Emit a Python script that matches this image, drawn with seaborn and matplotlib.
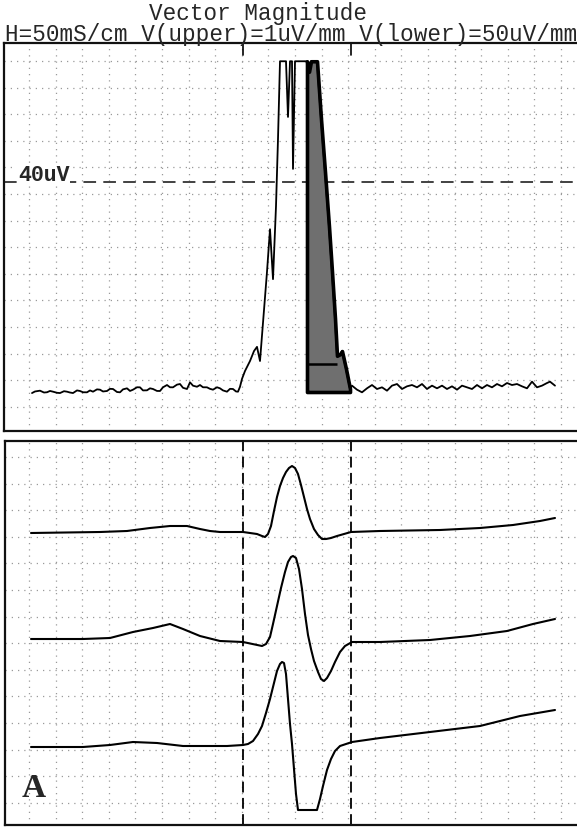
"""
Signal-averaged ECG: vector magnitude (upper) and filtered X/Y/Z leads (lower).
"""
import numpy as np
import matplotlib
matplotlib.use("Agg")
import matplotlib.pyplot as plt
import seaborn as sns

# ---- upper panel: filtered vector magnitude (time in ms, amplitude in uV) ----
vm_t = [1, 4, 9, 13, 16, 19, 22, 26, 29, 33, 36, 39, 42, 46, 49, 52, 56, 59, 62, 66,
        69, 72, 76, 79, 82, 86, 89, 92, 96, 99, 102, 106, 109, 112, 116, 119, 122, 126,
        129, 132, 136, 139, 142, 146, 149, 152, 156, 159, 162, 166, 169, 172, 176, 179,
        182, 186, 189, 192, 196, 199, 202, 205, 207, 209,
        211, 214, 219, 223, 226, 229, 232, 236, 239, 242, 245, 247, 249, 255, 257, 259,
        261, 262, 264, 275,
        276, 278, 280, 286, 290, 294, 298, 301, 304, 306, 309, 311, 315, 319,
        321, 326, 331, 336, 341, 346, 351, 356, 361, 366, 371, 376, 381, 386, 391, 396,
        401, 406, 411, 416, 421, 426, 431, 436, 441, 446, 451, 456, 461, 466, 471, 476,
        481, 486, 491, 496, 501, 506, 511, 516, 519, 524]
vm_uv = [-0.2, 0.1, 0.25, -0.1, -0.05, 0.2, 0.06, -0.15, -0.2, 0.15, 0.06, -0.1, -0.2,
         0.3, 0.19, -0.05, -0.06, 0.3, 0.06, 0.5, 0.44, 0.1, 0.19, 0.6, 0.57, 0.0, -0.06,
         0.5, 0.7, 0.2, 0.44, 0.9, 0.89, 0.3, 0.32, 0.7, 0.57, 0.2, 0.19, 0.9, 1.33, 0.9,
         0.89, 1.4, 1.52, 0.8, 0.57, 1.84, 1.2, 1.0, 1.33, 0.9, 0.89, 0.6, 0.44, 0.9, 0.7,
         0.3, 0.06, 0.6, 0.57, 0.1, 0.06, 1.0,
         2.5, 4.0, 5.9, 7.8, 8.6, 5.9, 13.3, 22.9, 31.0, 21.5, 35.4, 48.2, 63.0, 63.0,
         52.4, 63.0, 63.0, 42.5, 63.0, 63.0,
         63.0, 61.0, 63.0, 63.0, 52.0, 41.9, 31.5, 22.9, 14.0, 6.9, 7.2, 7.8, 4.4, 0.6,
         1.21, 0.44, -0.06, 0.70, 1.33, 0.57, 0.89, 0.25, 1.21, 1.52, 0.57, 1.08, 1.33,
         0.89, 1.52, 0.57, 1.21, 0.70, 1.21, 0.57, 1.08, 0.44, 1.21, 0.89, 0.57, 1.33,
         0.70, 1.33, 0.89, 1.52, 1.08, 1.71, 1.33, 1.52, 1.08, 0.70, 1.97, 0.89, 1.21,
         1.71, 1.97, 1.21]

QRS_ON, QRS_OFF = 212, 320      # ms, filtered QRS onset / offset
LAS_START = 276                 # last 40 ms of the QRS (shaded)
THRESH_UV = 40
LAS_NOISE_UV = 5.3              # noise level drawn across the shaded area
LAS_NOISE_END = 306

# ---- lower panel: filtered leads X, Y, Z (time in ms, amplitude in uV) ----
x_t = [0, 69, 96, 119, 139, 156, 169, 179, 189, 212, 226, 231, 234, 237, 240, 243, 246,
       249, 252, 255, 258, 261, 264, 267, 270, 273, 276, 279, 283, 287, 291, 295, 300,
       306, 313, 320, 349, 409, 449, 482, 509, 524]
x_amp = [-10, 0, 10, 40, 60, 60, 30, 10, 0, 0, -20, -40, -50, -20, 60, 210, 350, 460,
         540, 600, 640, 660, 640, 580, 470, 350, 230, 130, 30, -30, -70, -70, -60, -40,
         -20, 0, 10, 20, 40, 70, 110, 140]

y_t = [0, 52, 79, 102, 122, 139, 152, 169, 189, 212, 231, 235, 239, 242, 246, 250, 254,
       257, 260, 262, 265, 268, 271, 274, 277, 280, 283, 287, 290, 293, 296, 300, 304,
       309, 314, 321, 349, 399, 439, 476, 502, 524]
y_amp = [30, 30, 40, 100, 140, 180, 130, 60, 10, 0, -40, -20, 50, 180, 360, 540, 700,
         800, 850, 860, 840, 730, 530, 280, 70, -70, -190, -300, -370, -390, -360, -290,
         -200, -100, -40, 0, 0, 20, 60, 110, 180, 230]

z_t = [0, 52, 79, 102, 126, 152, 169, 196, 212, 217, 222, 227, 231, 235, 239, 243, 246,
       249, 251, 253, 255, 257, 259, 261, 263, 265, 267, 286, 289, 292, 296, 300, 304,
       309, 315, 321, 349, 399, 449, 489, 524]
z_amp = [-20, -20, 0, 30, 20, -10, -10, -10, 0, 10, 40, 110, 190, 320, 460, 620, 740,
         810, 830, 820, 710, 460, 210, 10, -240, -490, -650, -650, -540, -410, -250,
         -140, -60, -10, 10, 30, 70, 130, 190, 290, 350]

lead_baselines = [2930, 1830, 800]

sns.set_style("white")
plt.rcParams["font.family"] = ["Liberation Mono", "DejaVu Sans Mono"]

W, H = 577, 828
fig = plt.figure(figsize=(W / 100, H / 100), dpi=100)


def px_axes(left, top, bottom, right=600):
    return fig.add_axes([left / W, 1 - bottom / H, (right - left) / W, (bottom - top) / H])


grid_kw = dict(color="#9a9a9a", ls=(0, (1, 4)), lw=0.9)

# upper panel
ax = px_axes(4, 44, 432)
ax.set_xlim(-27, 569)
ax.set_ylim(-7.43, 66.48)
ax.set_xticks(np.arange(-2, 569, 26.6))
ax.set_yticks(np.arange(63.05, -7.4, -5.067))
ax.grid(True, **grid_kw)
ax.tick_params(length=0, labelbottom=False, labelleft=False)

t = np.array(vm_t)
v = np.array(vm_uv)
las = (t >= LAS_START) & (t <= QRS_OFF)
ax.fill_between(t[las], 0, v[las], facecolor="#6f6f6f", edgecolor="k", lw=2.6, zorder=3)
ax.hlines(LAS_NOISE_UV, LAS_START, LAS_NOISE_END, color="k", lw=1.8, zorder=4)
sns.lineplot(x=vm_t, y=vm_uv, sort=False, estimator=None, ax=ax, color="k", lw=1.3, zorder=5)
ax.axhline(THRESH_UV, color="#333333", lw=1.3, ls=(0, (7, 4)))
ax.text(-13, THRESH_UV + 0.3, "40uV", fontsize=15.5, fontweight="bold", va="baseline",
        ha="left", zorder=6, bbox=dict(facecolor="white", edgecolor="none", pad=0.5))
for q in (QRS_ON, QRS_OFF):
    ax.axvline(q, ymin=0.97, ymax=1, color="k", lw=1.2)

# lower panel
ax2 = px_axes(5, 442, 826)
ax2.set_xlim(-26, 569)
ax2.set_ylim(0, 3840)
ax2.set_xticks(np.arange(-2, 569, 26.6))
ax2.set_yticks(np.arange(3680, 0, -266))
ax2.grid(True, **grid_kw)
ax2.tick_params(length=0, labelbottom=False, labelleft=False)

for lt, la, base in zip([x_t, y_t, z_t], [x_amp, y_amp, z_amp], lead_baselines):
    sns.lineplot(x=lt, y=np.array(la) + base, sort=False, estimator=None, ax=ax2,
                 color="k", lw=1.5, zorder=5)
for q in (QRS_ON, QRS_OFF):
    ax2.axvline(q, color="k", lw=1.3, ls=(0, (6, 3)))
ax2.text(-9, 290, "A", fontsize=24, fontweight="bold", family="Liberation Serif",
         va="baseline", ha="left")

for a in (ax, ax2):
    for s in a.spines.values():
        s.set_color("#111111")
        s.set_linewidth(1.6)

fig.text(258 / W, 1 - 20 / H, "Vector Magnitude", fontsize=16.3, ha="center", va="baseline")
fig.text(5 / W, 1 - 41 / H, "H=50mS/cm V(upper)=1uV/mm V(lower)=50uV/mm",
         fontsize=16.3, ha="left", va="baseline")

fig.savefig("out.png", dpi=100)
